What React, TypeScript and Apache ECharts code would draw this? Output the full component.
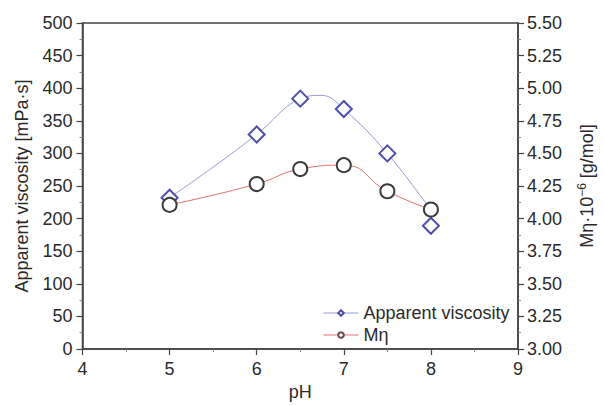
import React, { useEffect, useRef } from "react";
import * as echarts from "echarts";

const phValues = [5, 6, 6.5, 7, 7.5, 8];
const viscosity = [232, 329, 384, 368, 300, 189];
const mEta = [4.105, 4.265, 4.38, 4.41, 4.21, 4.07];
// fitted curve (blue line)
const viscCurvePH = [5, 5.5, 6, 6.5, 6.75, 7, 7.5, 8];
const viscCurve = [232, 279, 329, 384, 389, 368, 300, 213];

const FONT = "Liberation Sans, Arial, Helvetica, sans-serif";
const TXT = "#2a2a2a";
const AX = "#444";

export default function App() {
  const ref = useRef<HTMLDivElement>(null);
  useEffect(() => {
    if (!ref.current) return;
    const chart = echarts.init(ref.current, undefined, { renderer: "svg" });
    const axisCommon = {
      axisLine: { show: true, lineStyle: { color: AX, width: 1.5 } },
      axisTick: { show: true, inside: false, length: 6, lineStyle: { color: AX, width: 1.2 } },
      minorTick: { show: true, splitNumber: 2, length: 3, lineStyle: { color: "#888", width: 1 } },
      splitLine: { show: false },
      axisLabel: { color: TXT, fontSize: 18, fontFamily: FONT },
      nameTextStyle: { color: TXT, fontSize: 18, fontFamily: FONT },
    };
    chart.setOption({
      animation: false,
      backgroundColor: "#fff",
      grid: { left: 82.5, right: 75, top: 23, bottom: 50, show: true, borderColor: AX, borderWidth: 1.5 },
      xAxis: {
        type: "value",
        min: 4,
        max: 9,
        interval: 1,
        name: "pH",
        nameLocation: "middle",
        nameGap: 34,
        ...axisCommon,
        axisLabel: { ...axisCommon.axisLabel, margin: 11 },
      },
      yAxis: [
        {
          type: "value",
          min: 0,
          max: 500,
          interval: 50,
          position: "left",
          name: "Apparent viscosity [mPa·s]",
          nameLocation: "middle",
          nameGap: 52,
          nameRotate: 90,
          ...axisCommon,
          axisLabel: { ...axisCommon.axisLabel, margin: 10 },
        },
        {
          type: "value",
          min: 3,
          max: 5.5,
          interval: 0.25,
          position: "right",
          name: "{a|Mη·10}{s|−6}{a| [g/mol]}",
          nameLocation: "middle",
          nameGap: 58,
          nameRotate: 90,
          ...axisCommon,
          nameTextStyle: {
            color: TXT,
            fontFamily: FONT,
            rich: {
              a: { fontSize: 18, fontFamily: FONT, color: TXT },
              s: { fontSize: 12, fontFamily: FONT, color: TXT, verticalAlign: "top", padding: [0, 0, 10, 0] },
            },
          },
          axisLabel: { ...axisCommon.axisLabel, margin: 9, formatter: (v: number) => v.toFixed(2) },
        },
      ],
      legend: {
        orient: "vertical",
        left: 318,
        top: 299,
        itemWidth: 35,
        itemHeight: 7,
        itemGap: 4,
        textStyle: { color: TXT, fontSize: 18, fontFamily: FONT },
        data: [
          {
            name: "Apparent viscosity",
            itemStyle: { color: "#4f4fae", borderWidth: 1 },
            lineStyle: { color: "#9a9ad8", width: 1, opacity: 1 },
          },
          {
            name: "Mη",
            itemStyle: { color: "#6a4a4a", borderWidth: 1 },
            lineStyle: { color: "#e07070", width: 1, opacity: 1 },
          },
        ],
      },
      series: [
        {
          name: "viscCurve",
          type: "line",
          yAxisIndex: 0,
          smooth: 0.4,
          symbol: "none",
          silent: true,
          lineStyle: { color: "#9a9ad8", width: 1 },
          data: viscCurvePH.map((x, i) => [x, viscCurve[i]]),
          z: 1,
        },
        {
          name: "Apparent viscosity",
          type: "line",
          yAxisIndex: 0,
          symbol: "emptyDiamond",
          symbolSize: 16,
          itemStyle: { color: "#4f4fae", borderWidth: 1.2 },
          lineStyle: { color: "#9a9ad8", width: 1, opacity: 0 },
          data: phValues.map((x, i) => [x, viscosity[i]]),
          z: 3,
        },
        {
          name: "Mη",
          type: "line",
          yAxisIndex: 1,
          smooth: 0.5,
          symbol: "emptyCircle",
          symbolSize: 14,
          itemStyle: { color: "#3a3a3a", borderWidth: 1.1 },
          lineStyle: { color: "#e07070", width: 1 },
          data: phValues.map((x, i) => [x, mEta[i]]),
          z: 3,
        },
      ],
    });
    return () => chart.dispose();
  }, []);
  return <div ref={ref} style={{ width: 604, height: 406, position: "absolute", left: 0, top: 0 }} />;
}
